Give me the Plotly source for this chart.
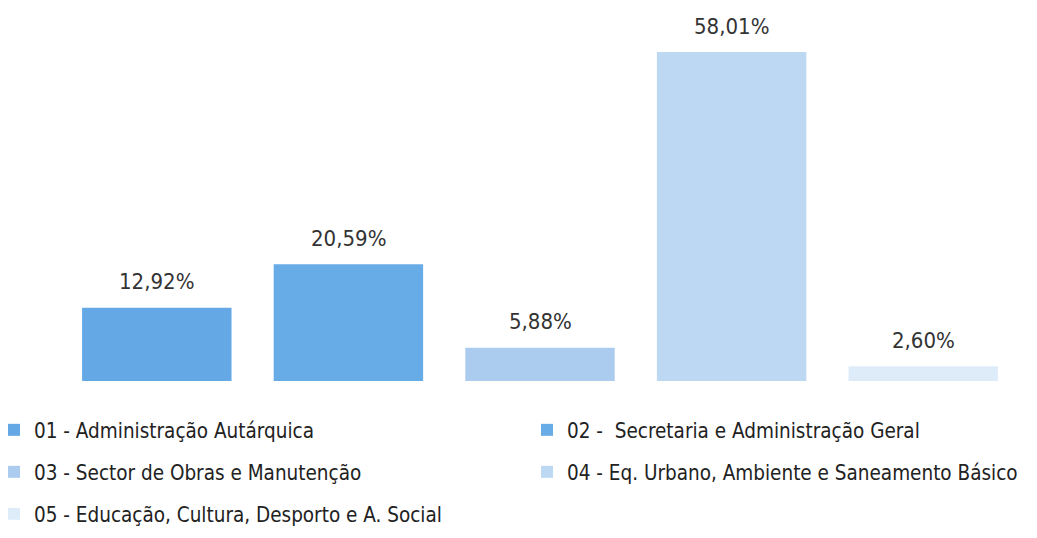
import plotly.graph_objects as go

categories = ["01 - Administração Autárquica",
              "02 -  Secretaria e Administração Geral",
              "03 - Sector de Obras e Manutenção",
              "04 - Eq. Urbano, Ambiente e Saneamento Básico",
              "05 - Educação, Cultura, Desporto e A. Social"]
values = [12.92, 20.59, 5.88, 58.01, 2.60]
labels = ["12,92%", "20,59%", "5,88%", "58,01%", "2,60%"]
colors = ["#64a8e5", "#67abe7", "#abccef", "#bdd8f3", "#deecfa"]

FONT = "DejaVu Sans Condensed, Liberation Sans Narrow, DejaVu Sans"
fig = go.Figure()
legend_names = ["legend", "legend2", "legend3", "legend4", "legend5"]
for i, (c, v, col) in enumerate(zip(categories, values, colors)):
    fig.add_trace(go.Bar(x=[c], y=[v], name=c, marker_color=col,
                         marker_line_width=0, legend=legend_names[i],
                         showlegend=True))

for c, v, t in zip(categories, values, labels):
    fig.add_annotation(x=c, y=v, text=t, showarrow=False, yanchor="middle",
                       yshift=26, font=dict(family=FONT, size=22, color="#333333"))

# page body has an 8px margin, so figure coords = screen coords - 8
H = 538
W = 1037
t_m, b_m = 2, 165
ph = H - t_m - b_m
l_m, r_m = 53, 26
pw = W - l_m - r_m

def py(pix):
    return (H - b_m - pix) / ph

def px(pix):
    return (pix - l_m) / pw

rows = [422, 464, 506]
cols = [-14, 519]
pos = [(cols[0], rows[0]), (cols[1], rows[0]), (cols[0], rows[1]), (cols[1], rows[1]), (cols[0], rows[2])]
layout_leg = {}
for name, (lx, ly) in zip(legend_names, pos):
    layout_leg[name] = dict(x=px(lx), y=py(ly), xanchor="left", yanchor="middle",
                            orientation="h", bgcolor="rgba(0,0,0,0)",
                            font=dict(family=FONT, size=20.5, color="#222222"),
                            itemwidth=30, visible=True)

fig.update_layout(
    width=W, height=H,
    margin=dict(l=l_m, r=r_m, t=t_m, b=b_m, autoexpand=False),
    paper_bgcolor="white", plot_bgcolor="white",
    barmode="overlay", bargap=0.22,
    showlegend=True,
    xaxis=dict(visible=False, range=[-0.5, 4.5]),
    yaxis=dict(visible=False, range=[0, 58.01 * ph / 329]),
    **layout_leg,
)
fig.write_html("out.html")
